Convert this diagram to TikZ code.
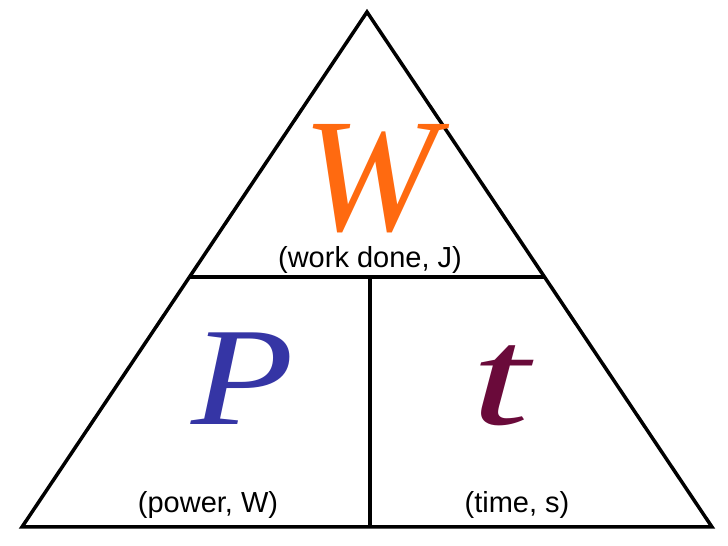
\documentclass[tikz,border=0pt]{standalone}
\usepackage{fontspec}
\setmainfont{Liberation Serif}
\newfontfamily\lab{Liberation Sans}
\definecolor{wcol}{HTML}{FF6A10}
\definecolor{pcol}{HTML}{3535A5}
\definecolor{tcol}{HTML}{6A0A3A}
\begin{document}
\begin{tikzpicture}[x=1pt,y=1pt,
  big/.style={inner sep=0pt,anchor=base,font=\fontsize{140}{140}\selectfont\itshape},
  lbl/.style={inner sep=0pt,font=\lab\fontsize{29}{31}\selectfont}]
\useasboundingbox (0,0) rectangle (728,546);
\coordinate (A) at (367,534);
\coordinate (B) at (22,19);
\coordinate (C) at (712,19);
\coordinate (L) at (189.5,269);
\coordinate (R) at (544.5,269);
\coordinate (M) at (370,269);
\coordinate (Mb) at (370,19);
\draw[line width=3.5pt,line join=miter] (A) -- (B) -- (C) -- cycle;
\draw[line width=3.5pt] (L) -- (R);
\draw[line width=3.5pt] (M) -- (Mb);
\node[big,text=wcol,font=\fontsize{162}{162}\selectfont\itshape] (w) at (370,315) {W};
\node[big,text=pcol,xscale=1.2] (p) at (243,121) {P};
\node[big,text=tcol,xscale=1.5] (t) at (501,121) {t};
\node[lbl] (wl) at (370,286) {(work done, J)};
\node[lbl] (pl) at (208,41) {(power, W)};
\node[lbl] (tl) at (517,41) {(time, s)};
\end{tikzpicture}
\end{document}
